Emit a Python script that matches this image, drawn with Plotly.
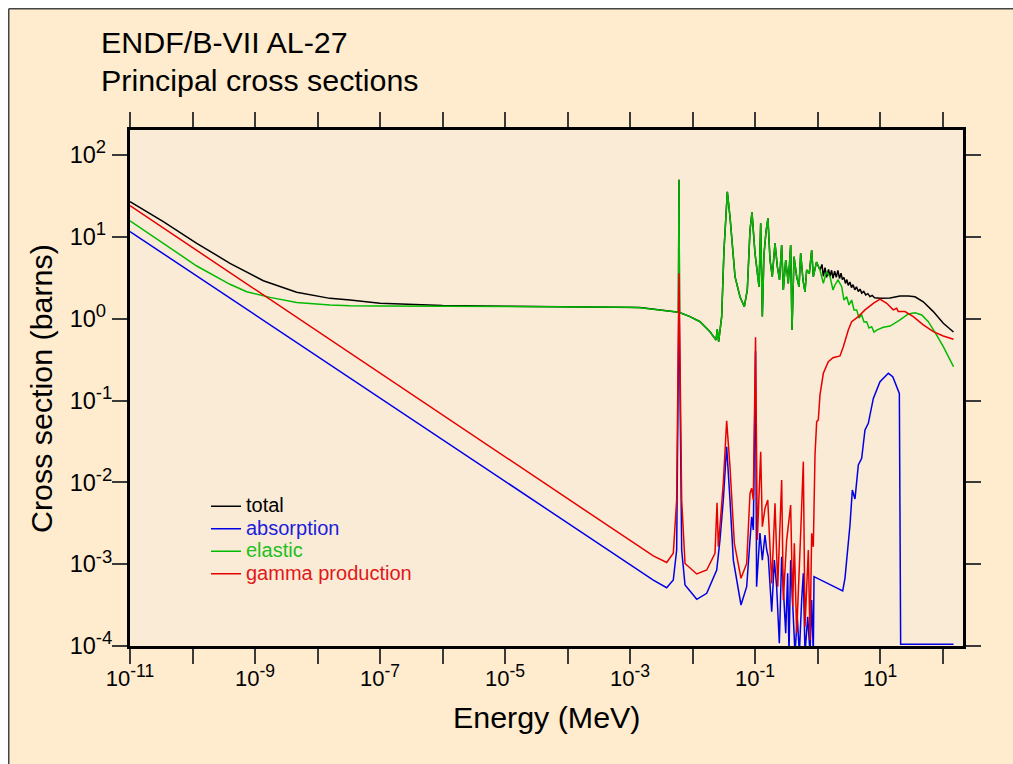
import plotly.graph_objects as go

# ---------------- data (energy in MeV, cross section in barns) ----------------
# shared resolved-resonance region (elastic dominates total here)
RES_E = [5.95e-3, 6.08e-3, 6.2e-3, 9.12e-3, 1.32e-2, 1.905e-2, 2.38e-2, 2.49e-2, 2.62e-2, 2.93e-2,
         3.19e-2, 3.61e-2, 3.98e-2, 4.79e-2, 5.75e-2, 6.75e-2, 7.53e-2, 8.32e-2, 8.95e-2, 0.1,
         0.1076, 0.1159, 0.1233, 0.131, 0.139, 0.150, 0.161, 0.174, 0.189, 0.209,
         0.228, 0.247, 0.267, 0.284, 0.310, 0.341, 0.372, 0.391, 0.421, 0.464,
         0.506, 0.538, 0.586, 0.631, 0.671, 0.740, 0.807, 0.857]
RES_SIGMA = [1.20, 50, 1.19, 1.06, 0.918, 0.693, 0.548, 0.741, 0.523, 1.06,
             6.90, 35.6, 17.6, 3.26, 1.85, 1.40, 2.24, 12.1, 19.9, 6.29,
             3.93, 2.46, 14.6, 1.06, 6.0, 11.6, 16.8, 5.21, 3.26, 8.34,
             4.31, 2.97, 7.94, 2.24, 5.21, 2.70, 7.94, 0.726, 5.72, 3.26,
             2.46, 6.29, 2.97, 2.13, 3.93, 3.58, 6.90, 3.26]

TOTAL_LOW_E = [1e-11, 3.41e-11, 1.17e-10, 3.98e-10, 1.36e-9, 4.64e-9, 1.58e-8, 3.31e-8, 1e-7, 1e-6,
               1e-5, 1e-4, 1e-3, 1.445e-3, 5.58e-3]
TOTAL_LOW_SIGMA = [26.9, 15.3, 8.34, 4.75, 2.91, 2.10, 1.77, 1.69, 1.54, 1.45,
                   1.42, 1.40, 1.38, 1.37, 1.21]
TOTAL_HIGH_E = [0.964, 1.096, 1.18, 1.24, 1.32, 1.40, 1.50, 1.585, 1.68, 1.77,
                1.88, 2.0, 2.12, 2.25, 2.38, 2.5, 2.65, 2.8, 2.95, 3.1,
                3.3, 3.5, 3.7, 3.95, 4.2, 4.5, 4.8, 5.1, 5.5, 5.9,
                6.4, 6.9, 7.5, 8.2, 10, 14.5, 20.9, 28.4, 36.3, 49.3,
                71.3, 103, 150]
TOTAL_HIGH_SIGMA = [4.92, 3.93, 4.6, 3.3, 4.2, 3.2, 4.0, 3.3, 3.9, 3.1,
                    3.8, 3.2, 3.9, 3.1, 3.6, 3.0, 3.2, 2.7, 3.0, 2.55,
                    2.8, 2.4, 2.6, 2.25, 2.45, 2.15, 2.3, 2.05, 2.15, 1.95,
                    2.02, 1.86, 1.92, 1.80, 1.77, 1.79, 1.89, 1.89, 1.85, 1.61,
                    1.22, 0.877, 0.687]

ELASTIC_LOW_E = [1e-11, 3.41e-11, 1.17e-10, 3.98e-10, 7.36e-10, 1.74e-9, 4.64e-9, 1.58e-8, 3.31e-8, 1e-7,
                 1e-6, 1e-5, 1e-4, 1e-3, 1.445e-3, 5.58e-3]
ELASTIC_LOW_SIGMA = [15.7, 8.34, 4.40, 2.63, 2.13, 1.82, 1.58, 1.47, 1.44, 1.43,
                     1.42, 1.41, 1.40, 1.38, 1.36, 1.21]
ELASTIC_HIGH_E = [0.964, 1.096, 1.24, 1.39, 1.585, 1.77, 1.905, 2.13, 2.44, 2.65,
                  2.93, 3.19, 3.52, 3.84, 4.24, 4.61, 5.09, 5.55, 6.12, 6.67,
                  7.36, 8.02, 8.85, 10, 11.3, 14.5, 20.9, 28.4, 36.3, 46.5,
                  59.3, 80.7, 103, 150]
ELASTIC_HIGH_SIGMA = [4.92, 3.93, 2.70, 3.72, 3.26, 2.24, 2.58, 2.97, 2.46, 1.69,
                      1.85, 1.47, 1.69, 1.28, 1.28, 1.02, 1.11, 0.91, 0.918, 0.769,
                      0.798, 0.687, 0.726, 0.748, 0.784, 0.813, 0.964, 1.14, 1.18, 1.11,
                      0.918, 0.631, 0.454, 0.259]

ABSORPTION_E = [1e-11, 1e-9, 1e-7, 1e-5, 1e-3, 1.445e-3, 2.36e-3, 3.86e-3, 4.93e-3, 5.58e-3,
                6.08e-3, 6.71e-3, 7.59e-3, 1.17e-2, 1.69e-2, 2.44e-2, 2.75e-2, 3.11e-2, 3.52e-2, 3.98e-2,
                4.50e-2, 5.97e-2, 7.36e-2, 8.32e-2, 8.85e-2, 9.40e-2, 0.102, 0.106, 0.115, 0.120,
                0.131, 0.1445, 0.154, 0.163, 0.185, 0.204, 0.222, 0.245, 0.267, 0.284,
                0.310, 0.333, 0.350, 0.372, 0.401, 0.437, 0.475, 0.512, 0.558, 0.593,
                0.631, 0.697, 0.759, 0.807, 0.857, 0.879, 2.53, 2.75, 3.31, 3.61,
                3.98, 4.50, 5.09, 5.75, 6.50, 7.82, 10, 13.6, 16.0, 20.4,
                21.4, 150]
ABSORPTION_SIGMA = [11.6, 1.11, 0.106, 0.0102, 9.77e-4, 8.09e-4, 6.40e-4, 5.15e-4, 6.40e-4, 1.49e-3,
                    2.5, 1.49e-3, 5.56e-4, 3.72e-4, 4.40e-4, 8.49e-4, 1.97e-3, 6.08e-3, 0.0272, 6.08e-3,
                    1.12e-3, 3.17e-4, 5.30e-4, 1.97e-3, 3.80e-3, 2.61e-3, 0.4, 5.30e-4, 1.23e-3, 2.40e-3,
                    1.12e-3, 2.27e-3, 1.49e-3, 1.23e-3, 2.62e-4, 1.12e-3, 5.30e-4, 1.08e-4, 1.23e-3, 5.30e-4,
                    1.43e-4, 7.73e-4, 8e-5, 1.12e-3, 3.65e-4, 8e-5, 2.28e-4, 8e-5, 3.65e-4, 7.73e-4,
                    8e-5, 2.28e-4, 8e-5, 3.65e-4, 8e-5, 7.03e-4, 4.70e-4, 6.71e-4, 3.01e-3, 8.05e-3,
                    6.25e-3, 0.0163, 0.0197, 0.0436, 0.0526, 0.106, 0.170, 0.215, 0.195, 0.122,
                    1.05e-4, 1.05e-4]

GAMMA_E = [1e-11, 1e-9, 1e-7, 1e-5, 1e-3, 1.445e-3, 2.36e-3, 3.86e-3, 4.93e-3, 5.58e-3,
           6.08e-3, 6.71e-3, 7.59e-3, 1.17e-2, 1.69e-2, 2.29e-2, 2.47e-2, 2.59e-2, 3.11e-2, 3.52e-2,
           3.98e-2, 4.67e-2, 5.97e-2, 7.36e-2, 8.32e-2, 8.85e-2, 9.40e-2, 0.102, 0.109, 0.1233,
           0.131, 0.1445, 0.160, 0.185, 0.209, 0.231, 0.267, 0.284, 0.321, 0.372,
           0.401, 0.426, 0.464, 0.538, 0.593, 0.631, 0.713, 0.759, 0.807, 0.857,
           0.889, 0.912, 0.970, 1.03, 1.096, 1.24, 1.49, 1.77, 2.29, 2.59,
           3.11, 3.52, 4.50, 5.75, 7.82, 10, 12.8, 16.3, 18.5, 19.6,
           25.1, 34.1, 49.3, 71.3, 103, 132, 150]
GAMMA_SIGMA = [24.0, 2.28, 0.217, 0.0206, 1.97e-3, 1.63e-3, 1.26e-3, 1.05e-3, 1.36e-3, 6.08e-3,
               3.58, 6.08e-3, 1.02e-3, 7.59e-4, 8.49e-4, 1.36e-3, 5.64e-3, 1.63e-3, 9.73e-3, 0.0566,
               0.0155, 1.80e-3, 6.71e-4, 1.02e-3, 7.35e-3, 8.45e-3, 6.08e-3, 0.592, 1.97e-3, 0.0237,
               2.87e-3, 4.81e-3, 6.08e-3, 5.83e-4, 5.54e-3, 5.30e-4, 0.0107, 3.65e-4, 1.97e-3, 5.28e-3,
               3.02e-4, 1.80e-3, 1.43e-4, 2.38e-3, 0.0179, 1.72e-4, 1.49e-3, 1.18e-4, 2.38e-3, 1.63e-3,
               6.08e-3, 0.0216, 0.0551, 0.0578, 0.117, 0.215, 0.298, 0.333, 0.350, 0.454,
               0.726, 0.918, 1.06, 1.28, 1.54, 1.73, 1.54, 1.28, 1.34, 1.22,
               1.22, 1.06, 0.838, 0.693, 0.614, 0.575, 0.560]

SERIES_NAMES = ["total", "absorption", "elastic", "gamma production"]
SERIES_COLORS = ["#000000", "#0000e6", "#00bb00", "#e60000"]
LEGEND_TEXT_COLORS = ["#000000", "#1c1cdc", "#20c020", "#e01818"]

X_TICK_EXPONENTS = list(range(-11, 3))          # a tick every decade
X_LABEL_EXPONENTS = [-11, -9, -7, -5, -3, -1, 1]  # labelled decades
Y_TICK_EXPONENTS = list(range(-4, 3))

TITLE_LINES = ["ENDF/B-VII AL-27", "Principal cross sections"]
X_TITLE = "Energy (MeV)"
Y_TITLE = "Cross section (barns)"

# ---------------- build ----------------
FONT = "Liberation Sans, Arial, Helvetica, sans-serif"

series = [
    (TOTAL_LOW_E + RES_E + TOTAL_HIGH_E, TOTAL_LOW_SIGMA + RES_SIGMA + TOTAL_HIGH_SIGMA),
    (ABSORPTION_E, ABSORPTION_SIGMA),
    (ELASTIC_LOW_E + RES_E + ELASTIC_HIGH_E, ELASTIC_LOW_SIGMA + RES_SIGMA + ELASTIC_HIGH_SIGMA),
    (GAMMA_E, GAMMA_SIGMA),
]

fig = go.Figure()
for (xs, ys), name, col, tcol in zip(series, SERIES_NAMES, SERIES_COLORS, LEGEND_TEXT_COLORS):
    fig.add_trace(go.Scatter(
        x=xs, y=ys, mode="lines", line=dict(color=col, width=1.5),
        name=f'<span style="color:{tcol};font-size:20px">{name}</span>'))


def sup(e, size, pad=False):
    # pad non-negative exponents with a 1/3-em space so the labels line up on the left
    tail = "\u2004" if (pad and e >= 0) else ""
    return f'10<sup><span style="font-size:{size}px">{e}{tail}</span></sup>'


TICK_COLOR = "#3a3a3a"
axis_common = dict(
    type="log", showgrid=False, zeroline=False, showline=True, linecolor="#000000", linewidth=3,
    mirror="allticks", ticks="outside", ticklen=15, tickwidth=2, tickcolor=TICK_COLOR,
    tickmode="array",
)

fig.update_xaxes(range=[-11, 2.328],
                 tickvals=[10.0 ** e for e in X_LABEL_EXPONENTS],
                 ticktext=[sup(e, 17.5) for e in X_LABEL_EXPONENTS],
                 tickfont=dict(family=FONT, size=22, color="#000000"),
                 ticklabelstandoff=-4,
                 minor=dict(tickmode="array", tickvals=[10.0 ** e for e in X_TICK_EXPONENTS],
                            ticks="outside", ticklen=15, tickwidth=2, tickcolor=TICK_COLOR,
                            showgrid=False),
                 **axis_common)
fig.update_yaxes(range=[-4, 2.3055],
                 tickvals=[10.0 ** e for e in Y_TICK_EXPONENTS],
                 ticktext=[sup(e, 18.5, pad=True) for e in Y_TICK_EXPONENTS],
                 tickfont=dict(family=FONT, size=23.5, color="#000000"),
                 ticklabelstandoff=-5,
                 **axis_common)

# the page places the figure 8 px from the window's top-left corner;
# the figure runs past the window's right and bottom edges (page scrolling is switched off)
OFF = 8
W, H = 1013, 764
L, T = 122, 122
PW, PH = 833, 516
R, B = W - L - PW, H - T - PH


def px_to_paper(sx, sy):
    fx, fy = sx - OFF, sy - OFF
    return (fx - L) / PW, (H - B - fy) / PH


TEXT_SIZE = 30.4
annotations = []
for i, line in enumerate(TITLE_LINES):
    ax_, ay_ = px_to_paper(99, 42 + 37.5 * i)
    annotations.append(dict(text=line, x=ax_, y=ay_, xref="paper", yref="paper",
                            xanchor="left", yanchor="middle", showarrow=False,
                            font=dict(family=FONT, size=TEXT_SIZE, color="#000000")))
xt_x, xt_y = px_to_paper(546.5, 717)
annotations.append(dict(text=X_TITLE, x=xt_x, y=xt_y, xref="paper", yref="paper",
                        xanchor="center", yanchor="middle", showarrow=False,
                        font=dict(family=FONT, size=TEXT_SIZE, color="#000000")))
yt_x, yt_y = px_to_paper(41, 389)
annotations.append(dict(text=Y_TITLE, x=yt_x, y=yt_y, xref="paper", yref="paper",
                        xanchor="center", yanchor="middle", showarrow=False, textangle=-90,
                        font=dict(family=FONT, size=TEXT_SIZE, color="#000000")))

# dark border along the figure's left and top edges
bx, by = px_to_paper(OFF + 0.75, OFF + 0.75)
ex, ey = px_to_paper(OFF + W + 2, OFF + H + 2)
shapes = [
    dict(type="line", xref="paper", yref="paper", x0=bx, x1=bx, y0=ey, y1=by,
         line=dict(color="#444444", width=1.5)),
    dict(type="line", xref="paper", yref="paper", x0=bx, x1=ex, y0=by, y1=by,
         line=dict(color="#444444", width=1.5)),
]

lg_x, lg_y = px_to_paper(206, 490)
fig.update_layout(
    width=W, height=H,
    margin=dict(l=L, r=R, t=T, b=B, pad=0),
    paper_bgcolor="#ffebcd", plot_bgcolor="#faebd7",
    font=dict(family=FONT, color="#000000"),
    showlegend=True,
    legend=dict(x=lg_x, y=lg_y, xanchor="left", yanchor="top", bgcolor="rgba(0,0,0,0)",
                borderwidth=0, font=dict(family=FONT, size=15)),
    annotations=annotations, shapes=shapes,
)

fig.write_html(
    "out.html",
    post_script=("document.documentElement.style.setProperty('overflow','hidden','important');"
                 "document.body.style.setProperty('overflow','hidden','important');"
                 "document.body.style.setProperty('margin-right','0px','important');"),
)
